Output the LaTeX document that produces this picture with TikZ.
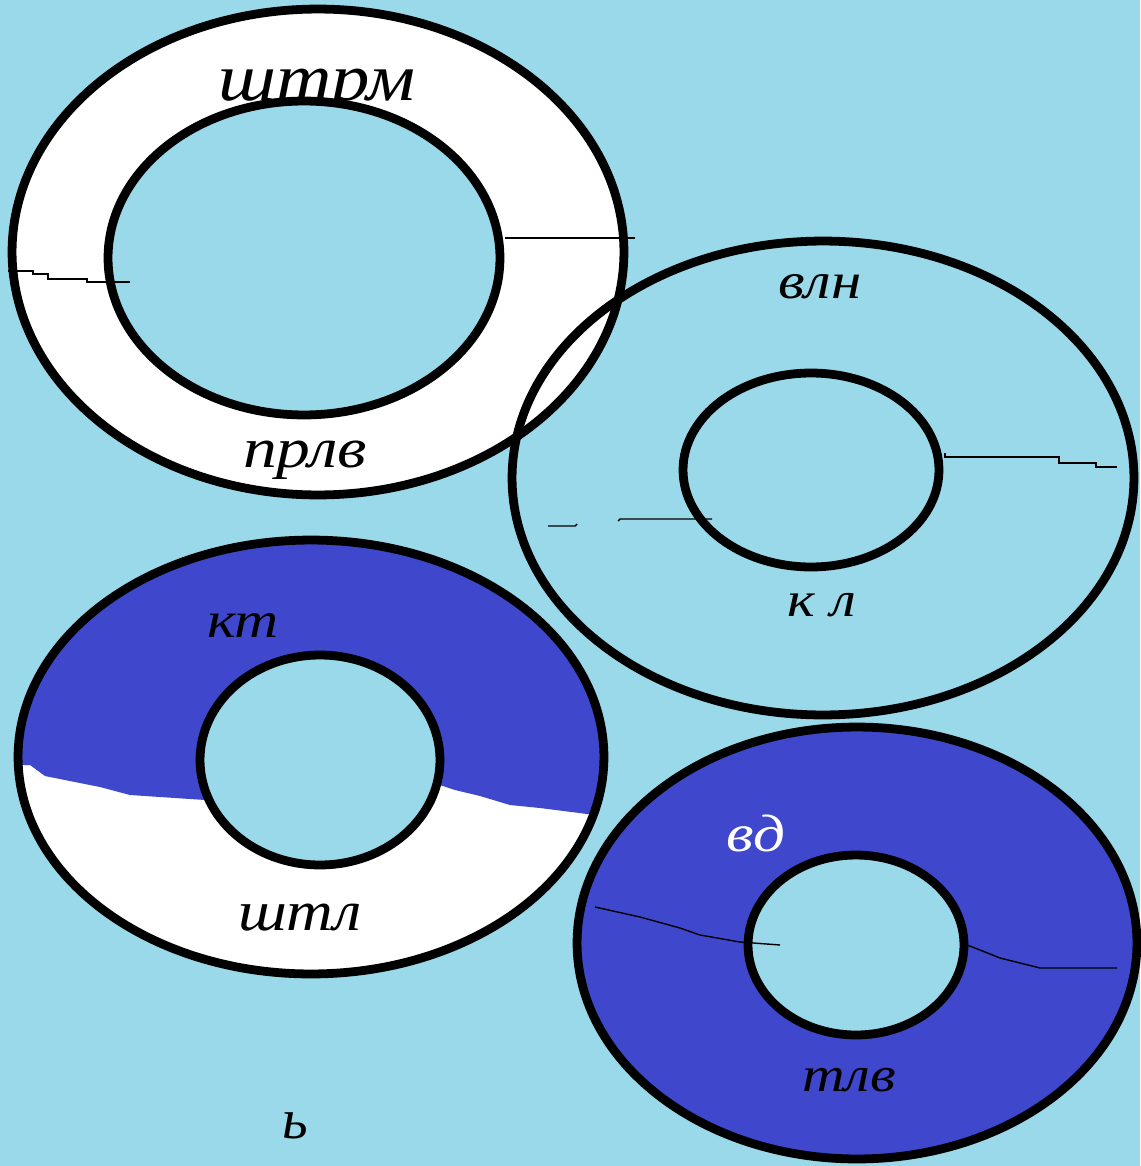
\documentclass[tikz,border=0pt]{standalone}
\usepackage{fontspec}
\setmainfont{Liberation Serif}
\definecolor{bgblue}{RGB}{153,217,234}
\definecolor{indig}{RGB}{63,72,204}
\begin{document}
\begin{tikzpicture}[x=0.02cm,y=-0.02cm,
  ring/.style={line width=5pt},
  crack/.style={line width=0.8pt, black},
  lbl/.style={inner sep=0pt, font=\itshape\fontsize{#1}{#1}\selectfont},
  lbl/.default=26pt]
\fill[bgblue] (0,0) rectangle (1140,1166);
\useasboundingbox (0,0) rectangle (1140,1166);

% ring 1 (top left, white)
\draw[ring, fill=white] (318,252) ellipse [x radius=6.12cm, y radius=4.86cm];
\node[lbl=38pt, xscale=1.15] (t1) at (317,92) {штрм};
\draw[ring, fill=bgblue] (304,258) ellipse [x radius=3.92cm, y radius=3.14cm];
\node[lbl=32pt, xscale=1.2] (t2) at (305,460) {прлв};
\draw[crack] (8,271) -- (33,271) -- (33,274) -- (48,274) -- (48,279) -- (87,279) -- (87,282) -- (130,282);
\draw[crack] (505,238) -- (635,238);

% ring 2 (right, outlines only)
\draw[ring] (823,478) ellipse [x radius=6.22cm, y radius=4.74cm];
\draw[ring] (811,470) ellipse [x radius=2.56cm, y radius=1.94cm];
\node[lbl=29pt, xscale=1.2] (t3) at (820,287) {влн};
\node[lbl=28pt, xscale=1.2] (t4) at (822,605) {к л};
\draw[crack] (945,453) -- (945,457) -- (1059,457) -- (1059,463) -- (1096,463) -- (1096,467) -- (1117,467);
\draw[crack] (548,526) -- (575,526) -- (577,524);
\draw[crack] (618,521) -- (620,519) -- (712,519);

% ring 3 (bottom left, blue / white)
\begin{scope}
\clip (311,757) ellipse [x radius=5.86cm, y radius=4.34cm];
\fill[white] (0,530) rectangle (620,990);
\fill[indig] (0,530) -- (620,530) -- (620,815) -- (595,815) -- (540,808) -- (510,805)
  -- (480,796) -- (455,790) -- (440,785) -- (330,790) -- (205,800) -- (130,795)
  -- (100,787) -- (45,776) -- (30,765) -- (0,765) -- cycle;
\end{scope}
\draw[ring] (311,757) ellipse [x radius=5.86cm, y radius=4.34cm];
\draw[ring, fill=bgblue] (320,760) ellipse [x radius=2.4cm, y radius=2.1cm];
\node[lbl=29pt, xscale=1.2] (t5) at (243,625) {кт};
\node[lbl=32pt, xscale=1.15] (t6) at (300,918) {штл};

% ring 4 (bottom right, blue)
\draw[ring, fill=indig] (857,943) ellipse [x radius=5.6cm, y radius=4.32cm];
\draw[crack] (962,943) -- (980,950) -- (1000,958) -- (1040,968) -- (1117,968);
\draw[ring, fill=bgblue] (856,945) ellipse [x radius=2.16cm, y radius=1.8cm];
\draw[crack] (595,907) -- (640,917) -- (680,928) -- (700,935) -- (740,942) -- (780,945);
\node[lbl=30pt, xscale=1.2, text=white] (t7) at (756,833) {вд};
\node[lbl=28pt, xscale=1.2] (t8) at (849,1080) {тлв};

\node[lbl=32pt] (t9) at (295,1126) {ь};
\end{tikzpicture}
\end{document}
